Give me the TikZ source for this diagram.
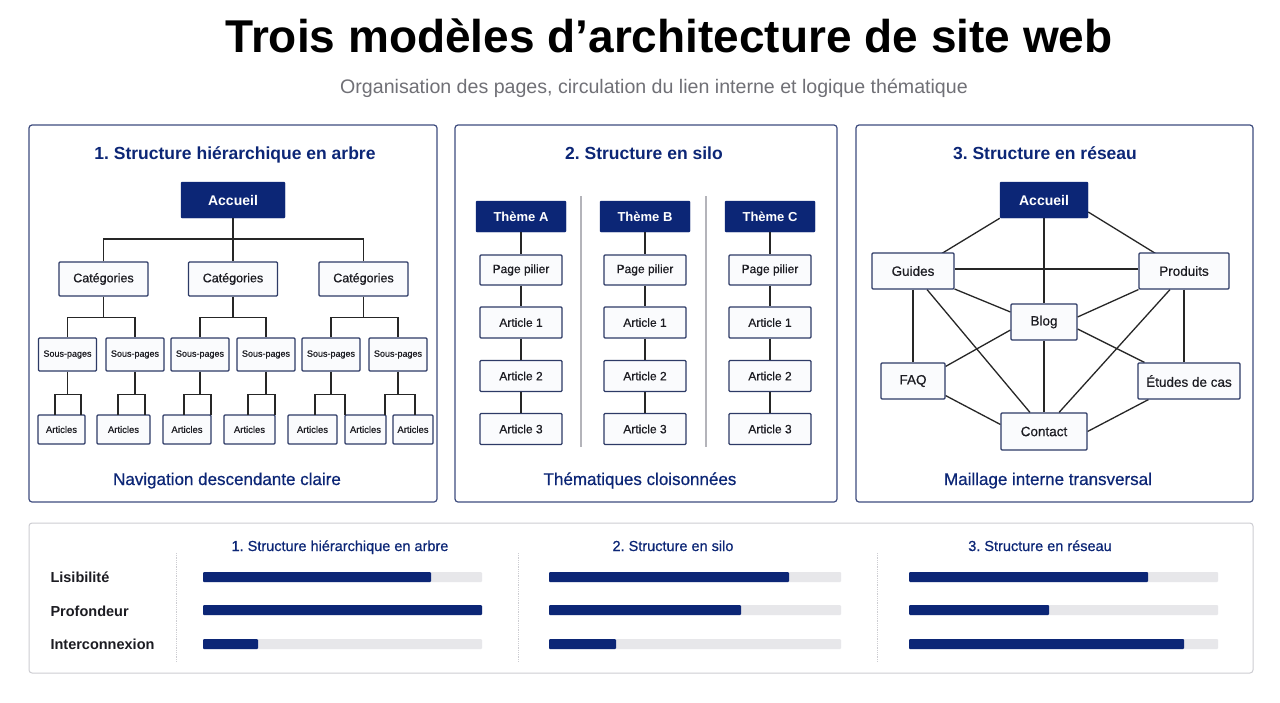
\documentclass[tikz,border=0pt]{standalone}
\usepackage{fontspec}
\setmainfont{Liberation Sans}
\newfontfamily\med{Liberation Sans}[FakeBold=0.6]
\usetikzlibrary{calc}
\definecolor{navy}{RGB}{12,38,118}
\definecolor{boxline}{RGB}{45,58,102}
\definecolor{panelline}{RGB}{62,76,126}
\definecolor{txt}{RGB}{28,28,34}
\definecolor{subg}{RGB}{112,112,118}
\definecolor{track}{RGB}{231,231,234}
\definecolor{boxfill}{RGB}{250,251,253}
\definecolor{sepg}{RGB}{180,180,186}
\definecolor{lightpanel}{RGB}{205,205,210}
\pgfdeclarelayer{back}
\pgfdeclarelayer{mid}
\pgfsetlayers{back,mid,main}
\frenchspacing
\newcommand{\fs}[1]{\fontsize{#1}{#1}\selectfont}
\tikzset{
  panel/.style={draw=panelline, line width=1.2pt, rounded corners=3pt},
  navybox/.style={fill=navy, draw=navy, text=white, font=\bfseries\fs{14}, inner sep=0pt, rounded corners=1pt},
  wbox/.style={draw=boxline, line width=1.1pt, fill=boxfill, text=txt, inner sep=0pt, rounded corners=1pt},
  link/.style={draw=black!85, line width=1.3pt},
  ptitle/.style={anchor=base, text=navy, font=\bfseries\fs{17.5}},
  plabel/.style={anchor=base, text=navy, font=\med\fs{17}},
  rowlab/.style={anchor=base west, text=txt, font=\bfseries\fs{14.5}},
  colhead/.style={anchor=base, text=navy, font=\med\fs{14.5}},
  tracks/.style={fill=track, rounded corners=1pt},
  barfill/.style={fill=navy, rounded corners=1pt},
  sep/.style={draw=sepg, line width=1.2pt},
  dsep/.style={draw=lightpanel, line width=0.8pt, densely dotted}
}
\begin{document}
\begin{tikzpicture}[x=1pt,y=-1pt]
\useasboundingbox (0,0) rectangle (1280,702);
\begin{pgfonlayer}{back}
\fill[white] (0,0) rectangle (1280,702);
\end{pgfonlayer}

% ---------- titles ----------
\node[anchor=base, text=black, font=\bfseries\fs{46}] (title) at (669,52) {Trois modèles d’architecture de site web};
\node[anchor=base, text=subg, font=\fs{19.6}] (subtitle) at (654,93) {Organisation des pages, circulation du lien interne et logique thématique};

% ---------- panels ----------
\draw[panel] (29,125) rectangle (437,502);
\draw[panel] (455,125) rectangle (837,502);
\draw[panel] (856,125) rectangle (1253,502);

% ---------- panel 1 : tree ----------
\node[ptitle] (p1t) at (235,159) {1. Structure hiérarchique en arbre};
\node[navybox, minimum width=104, minimum height=36] (t0) at (233,200) {Accueil};
\foreach \n/\x in {c1/103.5, c2/233, c3/363.5}
  \node[wbox, minimum width=89, minimum height=34, font=\med\fs{12.5}] (\n) at (\x,279) {Catégories};
\foreach \n/\x in {s1/67.5, s2/135, s3/200, s4/266, s5/331, s6/398}
  \node[wbox, minimum width=58, minimum height=33, font=\med\fs{9}] (\n) at (\x,354.5) {Sous-pages};
\foreach \n/\x/\w in {a1/61.5/47, a2/123.5/53, a3/187/48, a4/249.5/51, a5/312.5/49, a6/365.5/41, a7/413/40}
  \node[wbox, minimum width=\w, minimum height=29, font=\med\fs{9.5}] (\n) at (\x,429.5) {Articles};

\coordinate (bus) at (233,239);
\draw[link] (t0.south) -- (c2.north);
\draw[link] (c1.north) |- (bus) -| (c3.north);
\draw[link] (c1.south) -- ++(0,21) coordinate (k1);
\draw[link] (s1.north) |- (k1) -| (s2.north);
\draw[link] (c2.south) -- ++(0,21) coordinate (k2);
\draw[link] (s3.north) |- (k2) -| (s4.north);
\draw[link] (c3.south) -- ++(0,21) coordinate (k3);
\draw[link] (s5.north) |- (k3) -| (s6.north);
\foreach \s/\l/\r/\i in {s1/55/81/1, s2/118/145/2, s3/184/211/3, s4/248/275/4, s5/315/345/5, s6/385/415/6}{
  \draw[link] (\s.south) -- ++(0,23) coordinate (j\i);
  \draw[link] (\l,415) |- (j\i) -| (\r,415);
}
\node[plabel] (p1l) at (227,485) {Navigation descendante claire};

% ---------- panel 2 : silo ----------
\node[ptitle] (p2t) at (644,159) {2. Structure en silo};
\foreach \c/\x/\L in {A/521/A, B/645/B, C/770/C}{
  \node[navybox, font=\bfseries\fs{13}, minimum width=90, minimum height=31] (th\c) at (\x,216.5) {Thème \L};
  \node[wbox, font=\med\fs{12}, minimum width=82, minimum height=30] (pp\c) at (\x,270) {Page pilier};
  \node[wbox, font=\med\fs{12}, minimum width=82, minimum height=31] (ar1\c) at (\x,322.5) {Article 1};
  \node[wbox, font=\med\fs{12}, minimum width=82, minimum height=31] (ar2\c) at (\x,376) {Article 2};
  \node[wbox, font=\med\fs{12}, minimum width=82, minimum height=31] (ar3\c) at (\x,429) {Article 3};
  \draw[link] (th\c.south) -- (pp\c.north);
  \draw[link] (pp\c.south) -- (ar1\c.north);
  \draw[link] (ar1\c.south) -- (ar2\c.north);
  \draw[link] (ar2\c.south) -- (ar3\c.north);
}
\draw[sep] (581,196) -- (581,447);
\draw[sep] (706,196) -- (706,447);
\node[plabel] (p2l) at (640,485) {Thématiques cloisonnées};

% ---------- panel 3 : network ----------
\node[ptitle] (p3t) at (1045,159) {3. Structure en réseau};
\node[navybox, minimum width=88, minimum height=36] (acc) at (1044,200) {Accueil};
\node[wbox, font=\med\fs{13.5}, minimum width=82, minimum height=36] (gui) at (913,271) {Guides};
\node[wbox, font=\med\fs{13.5}, minimum width=90, minimum height=36] (pro) at (1184,271) {Produits};
\node[wbox, font=\med\fs{13.5}, minimum width=66, minimum height=36] (blog) at (1044,322) {Blog};
\node[wbox, font=\med\fs{13.5}, minimum width=64, minimum height=36] (faq) at (913,381) {FAQ};
\node[wbox, font=\med\fs{13.5}, minimum width=102, minimum height=36] (etu) at (1189,381) {Études de cas};
\node[wbox, font=\med\fs{13.5}, minimum width=86, minimum height=37] (con) at (1044,431.5) {Contact};
\begin{pgfonlayer}{mid}
\draw[link] (acc.south west) -- (gui.center);
\draw[link] ($(acc.east)+(0,12)$) -- (pro.center);
\draw[link] (acc.south) -- (blog.north);
\draw[link] ($(gui.east)+(0,-2)$) -- ($(pro.west)+(0,-2)$);
\draw[link] ($(gui.east)+(0,18)$) -- ($(blog.west)+(0,-10)$);
\draw[link] (gui.south) -- (faq.north);
\draw[link] ($(gui.south)+(14,0)$) -- ($(con.north)+(-14,0)$);
\draw[link] (pro.south west) -- ($(blog.east)+(0,-5)$);
\draw[link] ($(pro.south)+(-14,0)$) -- ($(con.north)+(15,0)$);
\draw[link] (pro.south) -- (pro.south |- etu.north);
\draw[link] ($(blog.west)+(0,8)$) -- ($(faq.north east)+(0,4)$);
\draw[link] ($(blog.east)+(0,7)$) -- ($(etu.north west)+(7,0)$);
\draw[link] (blog.south) -- (con.north);
\draw[link] ($(faq.south east)+(0,-4)$) -- ($(con.west)+(0,-7)$);
\draw[link] ($(etu.south west)+(11,0)$) -- (con.east);
\end{pgfonlayer}
\node[plabel] (p3l) at (1048,485) {Maillage interne transversal};

% ---------- bottom comparison panel ----------
\draw[draw=lightpanel, line width=1pt, rounded corners=3pt] (29,523) rectangle (1253,673);
\node[colhead] (h1) at (340,551) {1. Structure hiérarchique en arbre};
\node[colhead] (h2) at (673,551) {2. Structure en silo};
\node[colhead] (h3) at (1040,551) {3. Structure en réseau};
\node[rowlab] (r1) at (47,582) {Lisibilité};
\node[rowlab] (r2) at (47,616) {Profondeur};
\node[rowlab] (r3) at (47,649) {Interconnexion};
\draw[dsep] (176,553) -- (176,662);
\draw[dsep] (518,553) -- (518,662);
\draw[dsep] (877,553) -- (877,662);
\foreach \xa/\xb/\va/\vb/\vc in {203/482/431/482/258, 549/841/789/741/616, 909/1218/1148/1049/1184}{
  \fill[tracks] (\xa,572) rectangle (\xb,582);
  \fill[tracks] (\xa,605) rectangle (\xb,615);
  \fill[tracks] (\xa,639) rectangle (\xb,649);
  \fill[barfill] (\xa,572) rectangle (\va,582);
  \fill[barfill] (\xa,605) rectangle (\vb,615);
  \fill[barfill] (\xa,639) rectangle (\vc,649);
}
\end{tikzpicture}
\end{document}
